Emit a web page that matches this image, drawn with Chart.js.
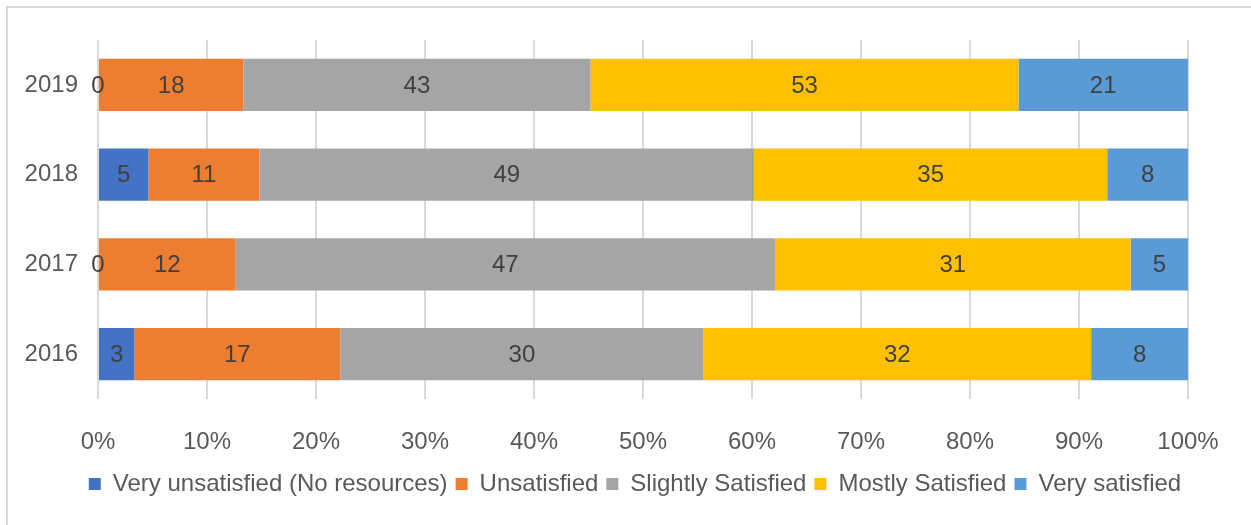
<!DOCTYPE html>
<html>
<head>
<meta charset="utf-8">
<script src="https://cdn.jsdelivr.net/npm/chart.js@4/dist/chart.umd.min.js"></script>
<style>
  html, body { margin: 0; padding: 0; background: #ffffff; overflow: hidden; }
  #marco { position: absolute; left: 6px; top: 6px; width: 1260px; height: 540px; border: 2px solid #d9d9d9; }
  #lienzo { position: absolute; left: 0; top: 0; }
</style>
</head>
<body>
<div id="marco"></div>
<div id="lienzo" style="width:1251px;height:525px;"><canvas id="grafico"></canvas></div>
<script>
    // años (de arriba hacia abajo)
    const years = ['2019', '2018', '2017', '2016'];
    const veryUnsatisfied = [0, 5, 0, 3];
    const unsatisfied = [18, 11, 12, 17];
    const slightlySatisfied = [43, 49, 47, 30];
    const mostlySatisfied = [53, 35, 31, 32];
    const verySatisfied = [21, 8, 5, 8];
    const seriesNames = ['Very unsatisfied (No resources)', 'Unsatisfied', 'Slightly Satisfied', 'Mostly Satisfied', 'Very satisfied'];
    const colores = ['#4472C4', '#ED7D31', '#A5A5A5', '#FFC000', '#5B9BD5'];

    const series = [veryUnsatisfied, unsatisfied, slightlySatisfied, mostlySatisfied, verySatisfied];
    const totales = years.map((y, i) => series.reduce((s, arr) => s + arr[i], 0));

    // etiquetas con el valor original en el centro de cada barra
    const etiquetas = {
        id: 'etiquetas',
        afterDatasetsDraw(chart) {
            const ctx = chart.ctx;
            ctx.save();
            ctx.font = '24px "Liberation Sans", Arial, sans-serif';
            ctx.fillStyle = '#404040';
            ctx.textAlign = 'center';
            ctx.textBaseline = 'middle';
            chart.data.datasets.forEach((ds, i) => {
                const meta = chart.getDatasetMeta(i);
                meta.data.forEach((bar, j) => {
                    const c = bar.getCenterPoint();
                    ctx.fillText(String(series[i][j]), c.x, c.y + 1);
                });
            });
            ctx.restore();
        }
    };

    // mover la leyenda un poco a la derecha (centrada en el lienzo)
    const moverLeyenda = {
        id: 'moverLeyenda',
        afterLayout(chart) {
            if (chart.legend) {
                chart.legend.left += 41;
                chart.legend.right += 41;
            }
        }
    };

    const ctx = document.getElementById('grafico').getContext('2d');
    const data = {
        labels: years,
        datasets: series.map((arr, i) => ({
            label: seriesNames[i],
            data: arr.map((v, j) => v / totales[j] * 100),
            backgroundColor: colores[i],
            borderWidth: 0,
            categoryPercentage: 0.58,
            barPercentage: 1.0
        }))
    };

    Chart.defaults.font.family = '"Liberation Sans", Arial, sans-serif';
    Chart.defaults.font.size = 24;
    Chart.defaults.color = '#595959';

    const grafico = new Chart(ctx, {
        type: 'bar',
        data: data,
        options: {
            indexAxis: 'y',
            responsive: true,
            maintainAspectRatio: false,
            animation: false,
            layout: { padding: { left: 0, right: 63, top: 40, bottom: 19 } },
            plugins: {
                tooltip: { enabled: false },
                legend: {
                    position: 'bottom',
                    labels: { boxWidth: 12, boxHeight: 12, padding: 8, color: '#595959', font: { size: 24 } }
                }
            },
            scales: {
                x: {
                    stacked: true,
                    min: 0,
                    max: 100,
                    ticks: { stepSize: 10, padding: 29, callback: v => v + '%', color: '#595959' },
                    grid: { color: '#d9d9d9', lineWidth: 2, drawTicks: false },
                    border: { display: false },
                    afterFit: scale => { scale.height = 65; }
                },
                y: {
                    stacked: true,
                    ticks: { padding: 20, color: '#595959' },
                    grid: { display: false, drawTicks: false },
                    border: { display: false },
                    afterFit: scale => { scale.width = 98; }
                }
            }
        },
        plugins: [etiquetas, moverLeyenda]
    });
</script>
</body>
</html>
